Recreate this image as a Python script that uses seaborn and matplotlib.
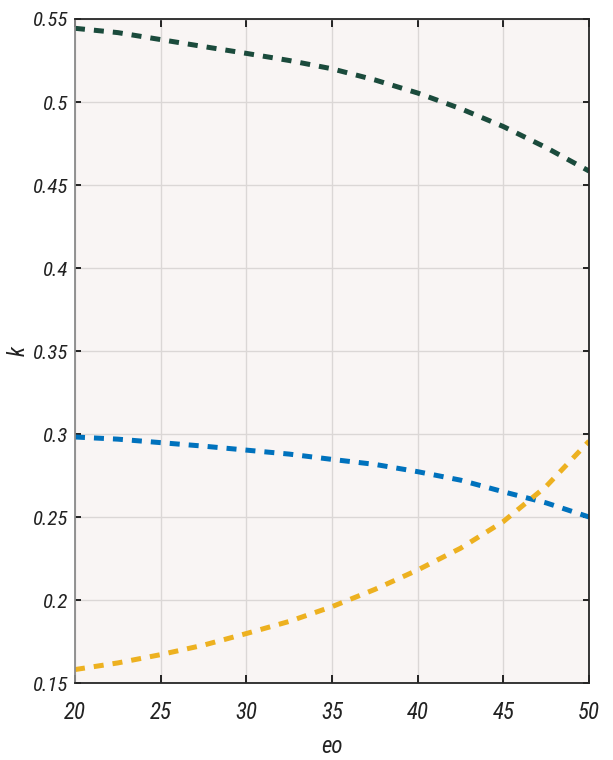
import matplotlib
matplotlib.use("Agg")
import matplotlib.pyplot as plt
import seaborn as sns
import pandas as pd

eo = [20, 22.5, 25, 27.5, 30, 32.5, 35, 37.5, 40, 42.5, 45, 47.5, 50]
k_green = [0.5444, 0.5418, 0.5376, 0.5334, 0.5293, 0.5250, 0.5200, 0.5133,
           0.5054, 0.4960, 0.4852, 0.4725, 0.4584]
k_blue = [0.2982, 0.2969, 0.2948, 0.2927, 0.2903, 0.2879, 0.2847, 0.2817,
          0.2773, 0.2722, 0.2652, 0.2585, 0.2500]
k_yellow = [0.1581, 0.1621, 0.1671, 0.1728, 0.1798, 0.1871, 0.1960, 0.2064,
            0.2181, 0.2312, 0.2473, 0.2685, 0.2957]
xticks = [20, 25, 30, 35, 40, 45, 50]
yticks = [0.15, 0.2, 0.25, 0.3, 0.35, 0.4, 0.45, 0.5, 0.55]
ytick_labels = ["0.15", "0.2", "0.25", "0.3", "0.35", "0.4", "0.45", "0.5", "0.55"]

sns.set_theme(style="white")
plt.rcParams["font.family"] = ["Roboto Condensed", "DejaVu Sans"]

n = len(eo)
df = pd.DataFrame({"eo": eo * 3,
                   "k": k_green + k_blue + k_yellow,
                   "s": ["g"] * n + ["b"] * n + ["y"] * n})

fig = plt.figure(figsize=(6.13, 7.6), dpi=100)
ax = fig.add_axes([0.1223, 0.1013, 0.8387, 0.8737])
ax.set_facecolor("#f9f5f4")
palette = {"g": "#1b4b3c", "b": "#0072bd", "y": "#edb120"}
sns.lineplot(data=df, x="eo", y="k", hue="s", palette=palette, ax=ax,
             legend=False, linewidth=3.6)
for line in ax.get_lines():
    line.set_dashes((2.0, 1.8))
    line.set_dash_capstyle("butt")

ax.set_xlim(20, 50)
ax.set_ylim(0.15, 0.55)
ax.set_xticks(xticks)
ax.set_xticklabels([str(x) for x in xticks])
ax.set_yticks(yticks)
ax.set_yticklabels(ytick_labels)
ax.grid(True, color="#dbd7d6", linewidth=1)
ax.set_axisbelow(True)
ax.tick_params(axis="x", direction="in", length=6, width=1.4, colors="#222222",
               labelsize=16.5, top=True, bottom=True, pad=13)
ax.tick_params(axis="y", direction="in", length=4, width=1.4, colors="#222222",
               labelsize=15, left=True, right=True, pad=5)
for lab in ax.get_xticklabels() + ax.get_yticklabels():
    lab.set_fontstyle("italic")
for side in ["top", "right", "bottom"]:
    ax.spines[side].set_color("#262626")
    ax.spines[side].set_linewidth(1.3)
ax.spines["left"].set_color("#8a8a8a")
ax.spines["left"].set_linewidth(1.3)
ax.set_xlabel("eo", fontsize=16.5, fontstyle="italic", color="#222222", labelpad=8)
ax.set_ylabel("k", fontsize=16.5, fontstyle="italic", color="#222222", labelpad=2)

fig.savefig("out.png", dpi=100)
